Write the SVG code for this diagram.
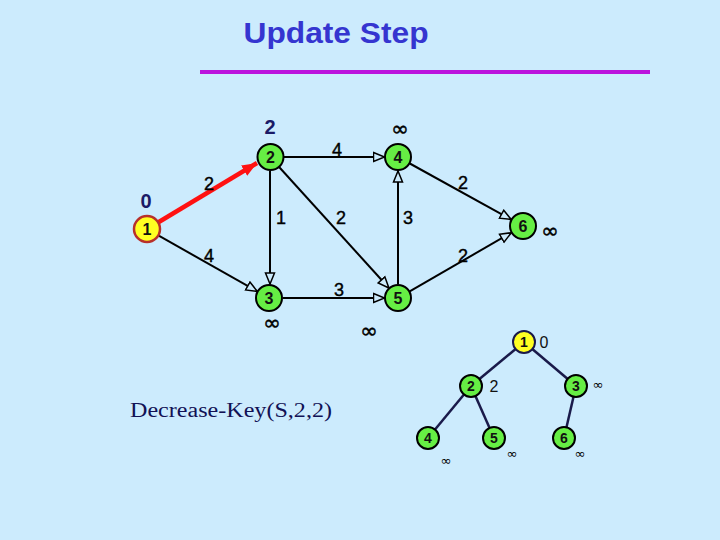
<svg xmlns="http://www.w3.org/2000/svg" width="720" height="540" viewBox="0 0 720 540">
<defs>
<style>
.bg{fill:#CCEBFD}
.node{fill:#66EE44;stroke:#000;stroke-width:2}
.src{fill:#FFFF22;stroke:#B8302A;stroke-width:2.5}
.nl{font-family:"Liberation Sans",Arial,sans-serif;font-weight:bold;font-size:16px;fill:#111;text-anchor:middle}
.tl{font-family:"Liberation Sans",Arial,sans-serif;font-weight:bold;font-size:14px;fill:#111;text-anchor:middle}
.el{font-family:"Liberation Sans",Arial,sans-serif;font-size:18px;fill:#000;stroke:#000;stroke-width:0.4;text-anchor:middle}
.dist{font-family:"Liberation Sans",Arial,sans-serif;font-weight:bold;font-size:20px;fill:#1A1A66;text-anchor:middle}
.inf{font-family:"DejaVu Sans","Liberation Sans",sans-serif;font-size:21px;fill:#000;stroke:#000;stroke-width:0.5;text-anchor:middle}
.tinf{font-family:"DejaVu Sans","Liberation Sans",sans-serif;font-size:13px;fill:#000;text-anchor:middle}
.tk{font-family:"Liberation Sans",Arial,sans-serif;font-size:16px;fill:#111;text-anchor:middle}
.edge{stroke:#000;stroke-width:2;fill:none;marker-end:url(#open)}
.tedge{stroke:#1A1A4A;stroke-width:2.5}
</style>
<marker id="open" markerUnits="userSpaceOnUse" markerWidth="14" markerHeight="12" viewBox="0 0 14 12" refX="12" refY="6" orient="auto">
<path d="M1,1.5 L12,6 L1,10.5 Z" fill="#CCEBFD" stroke="#000" stroke-width="1.5"/>
</marker>
<marker id="red" markerUnits="userSpaceOnUse" markerWidth="16" markerHeight="14" viewBox="0 0 16 14" refX="15" refY="7" orient="auto">
<path d="M0,1 L15,7 L0,13 Z" fill="#FF1111"/>
</marker>
</defs>
<rect class="bg" x="0" y="0" width="720" height="540"/>
<text x="336" y="43" font-family="'Liberation Sans',Arial,sans-serif" font-weight="bold" font-size="29" fill="#3535D0" text-anchor="middle" textLength="185" lengthAdjust="spacingAndGlyphs">Update Step</text>
<rect x="200" y="70" width="450" height="4" fill="#BB14DD"/>
<g id="connectors">
<line class="edge" x1="158.3" y1="235.4" x2="257.3" y2="291.4"/>
<line class="edge" x1="284" y1="157" x2="384.5" y2="157"/>
<line class="edge" x1="270" y1="171" x2="270" y2="284"/>
<line class="edge" x1="279.1" y1="167" x2="388.9" y2="288"/>
<line class="edge" x1="398" y1="284" x2="398" y2="171"/>
<line class="edge" x1="409.8" y1="163.5" x2="511.2" y2="219.5"/>
<line class="edge" x1="409.7" y1="291.3" x2="511.3" y2="232.7"/>
<line class="edge" x1="283" y1="298" x2="384.5" y2="298"/>
<line x1="158" y1="222.5" x2="257" y2="163" stroke="#FF1111" stroke-width="4.5" marker-end="url(#red)"/>
<text class="el" x="209" y="190">2</text>
<text class="el" x="209" y="262">4</text>
<text class="el" x="337" y="156">4</text>
<text class="el" x="281" y="224">1</text>
<text class="el" x="341" y="224">2</text>
<text class="el" x="408" y="224">3</text>
<text class="el" x="463" y="189">2</text>
<text class="el" x="463" y="262">2</text>
<text class="el" x="339" y="296">3</text>
<line class="tedge" x1="524" y1="342" x2="471" y2="386"/>
<line class="tedge" x1="524" y1="342" x2="576" y2="386"/>
<line class="tedge" x1="471" y1="386" x2="428" y2="438"/>
<line class="tedge" x1="471" y1="386" x2="494" y2="438"/>
<line class="tedge" x1="576" y1="386" x2="564" y2="438"/>
</g>
<g id="n1"><circle class="src" cx="147" cy="229" r="13"/><text class="nl" x="147" y="235">1</text><text class="dist" x="146" y="208">0</text></g>
<g id="n2"><circle class="node" cx="270.5" cy="157" r="13"/><text class="nl" x="270.5" y="163">2</text><text class="dist" x="270" y="134">2</text></g>
<g id="n4"><circle class="node" cx="398" cy="157" r="13"/><text class="nl" x="398" y="163">4</text><text class="inf" x="400" y="136">∞</text></g>
<g id="n6"><circle class="node" cx="523" cy="226" r="13"/><text class="nl" x="523" y="232">6</text><text class="inf" x="550" y="238">∞</text></g>
<g id="n3"><circle class="node" cx="269" cy="298" r="13"/><text class="nl" x="269" y="304">3</text><text class="inf" x="272" y="330">∞</text></g>
<g id="n5"><circle class="node" cx="398" cy="298" r="13"/><text class="nl" x="398" y="304">5</text><text class="inf" x="369" y="338">∞</text></g>
<g id="t1"><circle class="src" cx="524" cy="342" r="11" style="stroke:#1A1A4A;stroke-width:2"/><text class="tl" x="524" y="347">1</text><text class="tk" x="544" y="348">0</text></g>
<g id="t2"><circle class="node" cx="471" cy="386" r="11"/><text class="tl" x="471" y="391">2</text><text class="tk" x="494" y="392">2</text></g>
<g id="t3"><circle class="node" cx="576" cy="386" r="11"/><text class="tl" x="576" y="391">3</text><text class="tinf" x="598" y="389">∞</text></g>
<g id="t4"><circle class="node" cx="428" cy="438" r="11"/><text class="tl" x="428" y="443">4</text><text class="tinf" x="446" y="465">∞</text></g>
<g id="t5"><circle class="node" cx="494" cy="438" r="11"/><text class="tl" x="494" y="443">5</text><text class="tinf" x="512" y="458">∞</text></g>
<g id="t6"><circle class="node" cx="564" cy="438" r="11"/><text class="tl" x="564" y="443">6</text><text class="tinf" x="580" y="458">∞</text></g>
<text x="130" y="417" font-family="'Liberation Serif','Times New Roman',serif" font-size="20" fill="#111155" textLength="202" lengthAdjust="spacingAndGlyphs">Decrease-Key(S,2,2)</text>
</svg>
